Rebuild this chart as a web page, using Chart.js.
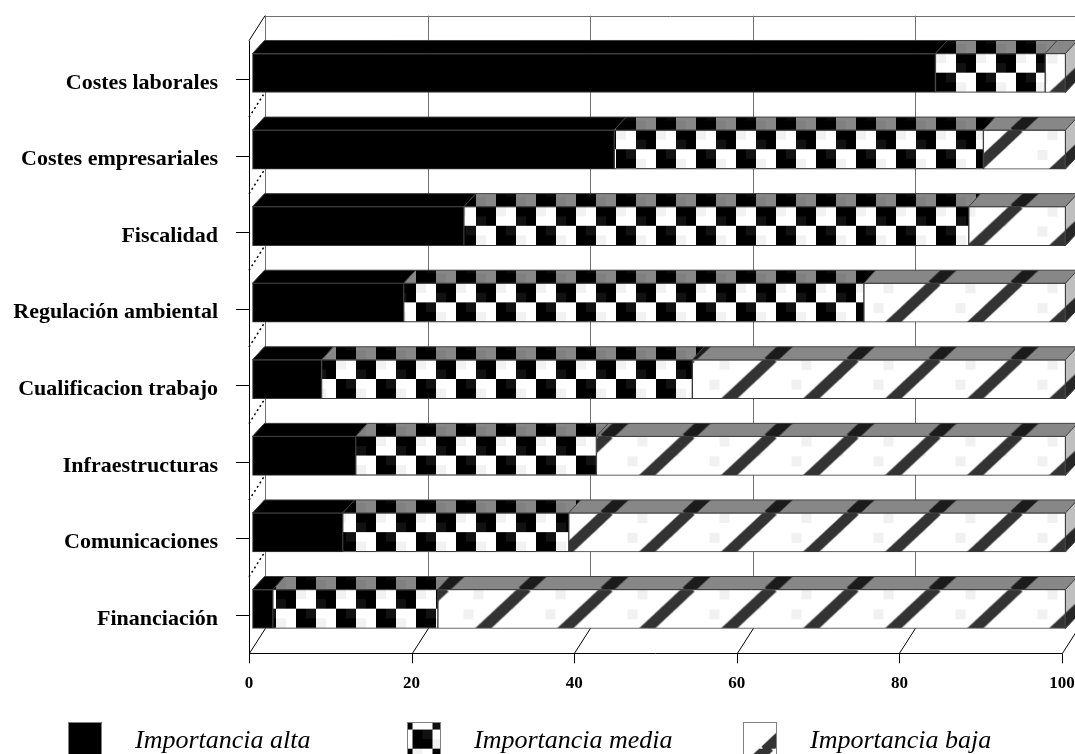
<!DOCTYPE html>
<html>
<head>
<meta charset="utf-8">
<script src="https://cdn.jsdelivr.net/npm/chart.js@4.4.1/dist/chart.umd.min.js"></script>
<style>
html, body { margin: 0; padding: 0; background: #fff; }
#wrap { width: 1075px; height: 754px; position: relative; }
</style>
</head>
<body>
<div id="wrap"><canvas id="chart_importancia"></canvas></div>
<script>
var categorias = ['Costes laborales', 'Costes empresariales', 'Fiscalidad', 'Regulación ambiental',
    'Cualificacion trabajo', 'Infraestructuras', 'Comunicaciones', 'Financiación'];
var importanciaAlta  = [84.0, 44.5, 26.0, 18.6,  8.5, 12.7, 11.1,  2.5];
var importanciaMedia = [13.5, 45.4, 62.1, 56.6, 45.6, 29.6, 27.8, 20.3];
var importanciaBaja  = [ 2.5, 10.1, 11.9, 24.8, 45.9, 57.7, 61.1, 77.2];
var nombresSerie = ['Importancia alta', 'Importancia media', 'Importancia baja'];
var ticksX = [0, 20, 40, 60, 80, 100];

// 3d look
var WALL_DX = 16, WALL_DY = 25;
var BAR_DX = 12, BAR_DY = 13;
var SHIFT_X = 3.5, SHIFT_Y = 6;
var BAR_TOP0 = 59.5, ROW = 76.575;

function makeChecker() {
    var c = document.createElement('canvas');
    c.width = 40; c.height = 40;
    var g = c.getContext('2d');
    g.fillStyle = '#fff'; g.fillRect(0, 0, 40, 40);
    g.fillStyle = '#f2f2f2'; g.fillRect(20, 0, 10, 10); g.fillRect(0, 30, 10, 10);
    g.fillStyle = '#000'; g.fillRect(0, 0, 20, 20); g.fillRect(20, 20, 20, 20);
    g.fillStyle = '#111'; g.fillRect(0, 10, 10, 10); g.fillRect(30, 20, 10, 10);
    var p = g.createPattern(c, 'repeat');
    p.setTransform(new DOMMatrix().translate(32.5, BAR_TOP0).scale(1, (ROW / 4) / 20));
    return p;
}

function makeDiagonal() {
    var W = 82, H = 77;
    var c = document.createElement('canvas');
    c.width = W; c.height = H;
    var g = c.getContext('2d');
    g.fillStyle = '#fff'; g.fillRect(0, 0, W, H);
    g.fillStyle = '#f1f1f1';
    g.fillRect(10, 10, 10, 10); g.fillRect(50, 20, 10, 10); g.fillRect(70, 30, 10, 10); g.fillRect(60, 0, 10, 10);
    g.strokeStyle = '#333';
    g.lineWidth = 11;
    g.lineCap = 'butt';
    [-W, 0, W].forEach(function (o) {
        g.beginPath();
        g.moveTo(o + 27, H + 2);
        g.lineTo(o + 27 + W * (H + 4) / H, -2);
        g.stroke();
    });
    var p = g.createPattern(c, 'repeat');
    p.setTransform(new DOMMatrix().translate(0, BAR_TOP0).scale(1, ROW / H));
    return p;
}

var fillAlta = '#000';
var fillMedia = makeChecker();
var fillBaja = makeDiagonal();

function linea(ctx, x1, y1, x2, y2) {
    ctx.beginPath(); ctx.moveTo(x1, y1); ctx.lineTo(x2, y2); ctx.stroke();
}

function sinPadding(scale) {
    scale.paddingTop = 0; scale.paddingBottom = 0;
    scale.paddingLeft = 0; scale.paddingRight = 0;
}

var tresD = {
    id: 'tresD',
    beforeDatasetsDraw: function (chart) {
        var ctx = chart.ctx, a = chart.chartArea, sx = chart.scales.x, sy = chart.scales.y;
        ctx.save();
        ctx.lineWidth = 1;
        ctx.strokeStyle = '#707070';
        ticksX.forEach(function (v) {
            var px = Math.round(sx.getPixelForValue(v) + WALL_DX) + 0.5;
            linea(ctx, px, a.top - WALL_DY, px, a.bottom - WALL_DY);
        });
        linea(ctx, a.left + WALL_DX, Math.round(a.top - WALL_DY) + 0.5, a.right + WALL_DX + 5, Math.round(a.top - WALL_DY) + 0.5);
        ctx.strokeStyle = '#000';
        ticksX.forEach(function (v) {
            var px = Math.round(sx.getPixelForValue(v)) + 0.5;
            linea(ctx, px, a.bottom, px + WALL_DX, a.bottom - WALL_DY);
            linea(ctx, px, a.bottom, px, a.bottom + 10);
        });
        var yb = Math.round(a.bottom) + 0.5, xl = Math.round(a.left) + 0.5;
        linea(ctx, a.left, yb, a.right, yb);
        linea(ctx, xl, a.top, xl, a.bottom);
        linea(ctx, a.left, a.top, a.left + WALL_DX, a.top - WALL_DY);
        for (var i = 0; i < categorias.length; i++) {
            var yc = Math.round(sy.getPixelForValue(i)) + 0.5;
            linea(ctx, a.left - 13, yc, a.left, yc);
        }
        ctx.setLineDash([2, 3]);
        ctx.lineWidth = 1.5;
        for (var j = 0; j < categorias.length - 1; j++) {
            var yg = (sy.getPixelForValue(j) + sy.getPixelForValue(j + 1)) / 2;
            linea(ctx, a.left, yg, a.left + WALL_DX, yg - WALL_DY);
        }
        ctx.restore();
        ctx.save();
        ctx.translate(SHIFT_X, -SHIFT_Y);
    },
    afterDatasetsDraw: function (chart) {
        var ctx = chart.ctx;
        ctx.lineWidth = 1;
        ctx.strokeStyle = '#404040';
        for (var i = 0; i < categorias.length; i++) {
            var last = null;
            chart.data.datasets.forEach(function (ds, d) {
                var el = chart.getDatasetMeta(d).data[i];
                var p = el.getProps(['x', 'y', 'base', 'height'], true);
                var x1 = Math.min(p.x, p.base), x2 = Math.max(p.x, p.base), top = p.y - p.height / 2;
                ctx.beginPath();
                ctx.moveTo(x1, top); ctx.lineTo(x2, top);
                ctx.lineTo(x2 + BAR_DX, top - BAR_DY); ctx.lineTo(x1 + BAR_DX, top - BAR_DY);
                ctx.closePath();
                ctx.fillStyle = ds.backgroundColor; ctx.fill();
                ctx.fillStyle = 'rgba(0,0,0,0.47)'; ctx.fill();
                ctx.stroke();
                last = { x2: x2, top: top, h: p.height, bg: ds.backgroundColor };
            });
            ctx.beginPath();
            ctx.moveTo(last.x2, last.top); ctx.lineTo(last.x2 + BAR_DX, last.top - BAR_DY);
            ctx.lineTo(last.x2 + BAR_DX, last.top - BAR_DY + last.h); ctx.lineTo(last.x2, last.top + last.h);
            ctx.closePath();
            ctx.fillStyle = last.bg; ctx.fill();
            ctx.fillStyle = 'rgba(0,0,0,0.25)'; ctx.fill();
            ctx.stroke();
        }
        ctx.restore();
    },
    afterDraw: function (chart) {
        var ctx = chart.ctx;
        var boxX = [68, 407, 743];
        ctx.save();
        ctx.font = 'italic 26px "Liberation Serif"';
        ctx.textBaseline = 'middle';
        ctx.textAlign = 'left';
        chart.data.datasets.forEach(function (ds, d) {
            ctx.fillStyle = ds.backgroundColor;
            ctx.fillRect(boxX[d], 722, 34, 34);
            ctx.strokeStyle = '#808080';
            ctx.strokeRect(boxX[d] + 0.5, 722.5, 33, 33);
            ctx.fillStyle = '#000';
            ctx.fillText(ds.label, boxX[d] + 67, 741);
        });
        ctx.restore();
    }
};

var chart_importancia = new Chart(document.getElementById('chart_importancia'), {
    type: 'bar',
    data: {
        labels: categorias,
        datasets: [
            { label: nombresSerie[0], data: importanciaAlta, backgroundColor: fillAlta },
            { label: nombresSerie[1], data: importanciaMedia, backgroundColor: fillMedia },
            { label: nombresSerie[2], data: importanciaBaja, backgroundColor: fillBaja }
        ]
    },
    options: {
        indexAxis: 'y',
        animation: false,
        responsive: true,
        maintainAspectRatio: false,
        clip: false,
        barThickness: 39,
        borderWidth: 1,
        borderColor: '#3a3a3a',
        borderSkipped: false,
        layout: { padding: { top: 40.7, right: 13, left: 0, bottom: 0 } },
        plugins: {
            legend: { display: false },
            tooltip: { enabled: false }
        },
        scales: {
            x: {
                type: 'linear',
                stacked: true,
                min: 0,
                max: 100,
                grid: { display: false },
                border: { display: false },
                ticks: {
                    stepSize: 20,
                    padding: 12,
                    color: '#000',
                    font: { family: '"Liberation Serif"', size: 17, weight: 'bold' }
                },
                afterFit: function (scale) { scale.height = 100.7; sinPadding(scale); }
            },
            y: {
                stacked: true,
                grid: { display: false },
                border: { display: false },
                ticks: {
                    padding: 23,
                    labelOffset: 4,
                    color: '#000',
                    font: { family: '"Liberation Serif"', size: 22, weight: 'bold' }
                },
                afterFit: function (scale) { scale.width = 249; sinPadding(scale); }
            }
        }
    },
    plugins: [tresD]
});
</script>
</body>
</html>
